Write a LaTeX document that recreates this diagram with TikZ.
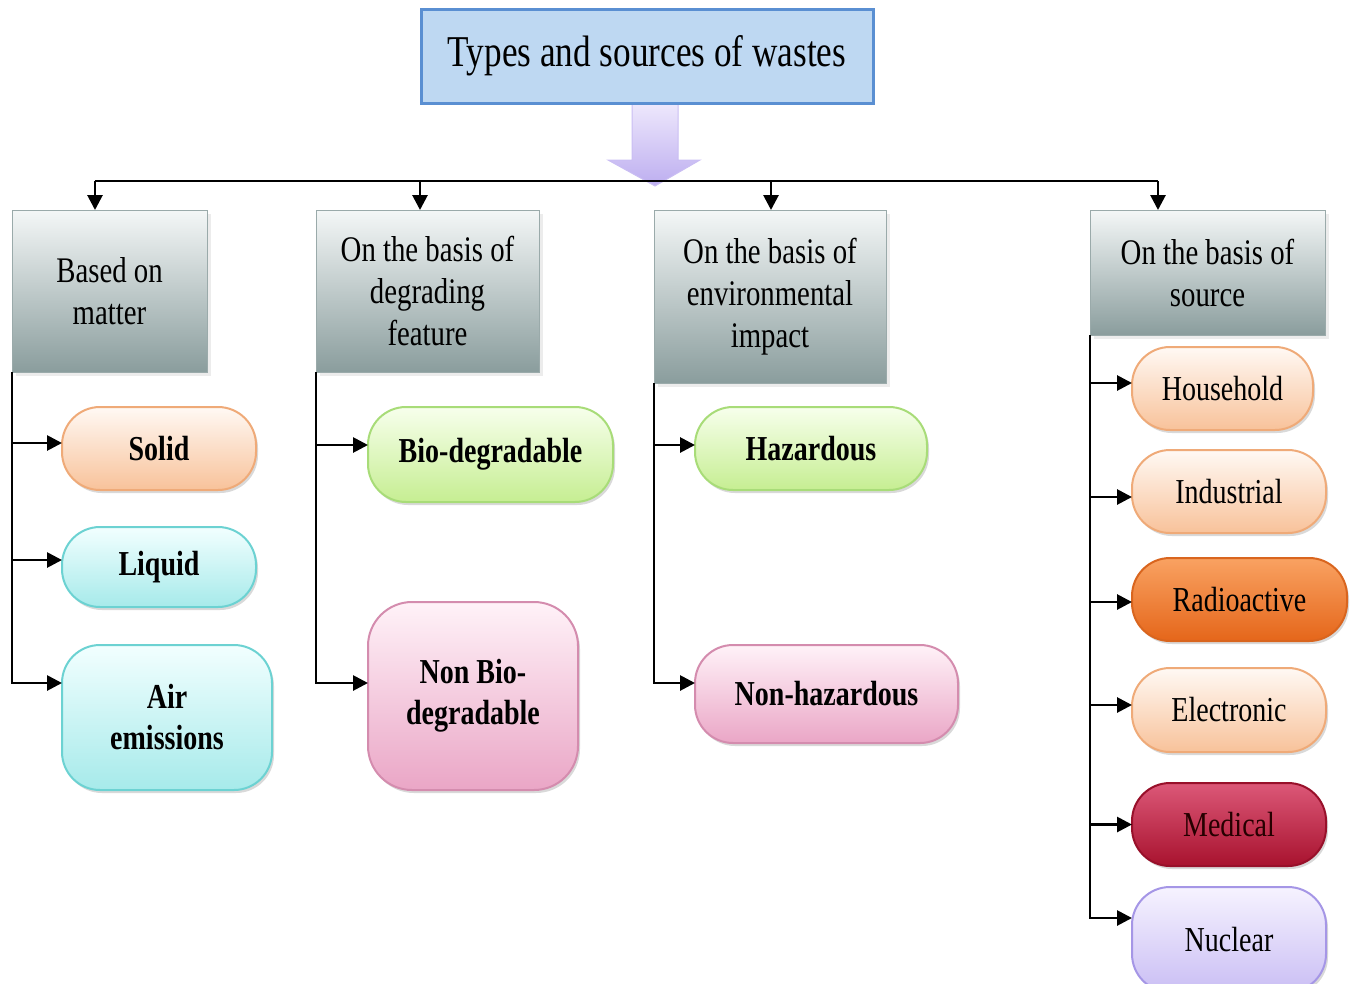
\documentclass[tikz,border=0pt]{standalone}
\usepackage{fontspec}
\setmainfont{Liberation Serif}[FakeStretch=0.8]
\usetikzlibrary{arrows.meta, shadows}

\definecolor{titlefill}{HTML}{BED8F2}
\definecolor{titleedge}{HTML}{5A8FD2}
\definecolor{flowtop}{HTML}{EEE8FC}
\definecolor{flowbot}{HTML}{BDAEF0}
\definecolor{cattop}{HTML}{F4F7F7}
\definecolor{catbot}{HTML}{8A9D9D}
\definecolor{catedge}{HTML}{9AAAAA}
\definecolor{peachtop}{HTML}{FFF9F4}
\definecolor{peachbot}{HTML}{F8C29A}
\definecolor{peachedge}{HTML}{EFAA78}
\definecolor{cyantop}{HTML}{F2FFFF}
\definecolor{cyanbot}{HTML}{A6EAEA}
\definecolor{cyanedge}{HTML}{6CD2D2}
\definecolor{greentop}{HTML}{F7FFEC}
\definecolor{greenbot}{HTML}{C6EE92}
\definecolor{greenedge}{HTML}{A8DC78}
\definecolor{pinktop}{HTML}{FFF2F8}
\definecolor{pinkbot}{HTML}{EAA6C6}
\definecolor{pinkedge}{HTML}{D48CAE}
\definecolor{radiotop}{HTML}{F9A262}
\definecolor{radiobot}{HTML}{E5661A}
\definecolor{radioedge}{HTML}{D9651E}
\definecolor{medictop}{HTML}{DC5878}
\definecolor{medicbot}{HTML}{A8122E}
\definecolor{medicedge}{HTML}{98102A}
\definecolor{lavtop}{HTML}{F6F3FF}
\definecolor{lavbot}{HTML}{CABEF4}
\definecolor{lavedge}{HTML}{A596E6}

\begin{document}
\begin{tikzpicture}[x=1pt, y=-1pt,
  every node/.style={inner sep=0pt, outer sep=0pt, align=center},
  link/.style={line width=2.8pt, -{Triangle[length=15pt, width=15pt]}},
  bus/.style={line width=2.8pt},
  titlebox/.style={rectangle, fill=titlefill, draw=titleedge, line width=3pt,
    font=\fontsize{44}{48}\selectfont},
  catbox/.style={rectangle, top color=cattop, bottom color=catbot, draw=catedge,
    line width=1pt, font=\fontsize{36}{42}\selectfont,
    drop shadow={shadow xshift=4pt, shadow yshift=-4pt, opacity=0.15}},
  leaf/.style={rectangle, rounded corners=38pt, line width=2pt,
    font=\bfseries\fontsize{35}{41}\selectfont,
    drop shadow={shadow xshift=2pt, shadow yshift=-3pt, opacity=0.3}},
  srcleaf/.style={leaf, font=\fontsize{35}{41}\selectfont},
  peach/.style={top color=peachtop, bottom color=peachbot, draw=peachedge},
  cyanish/.style={top color=cyantop, bottom color=cyanbot, draw=cyanedge},
  greenish/.style={top color=greentop, bottom color=greenbot, draw=greenedge},
  pinkish/.style={top color=pinktop, bottom color=pinkbot, draw=pinkedge},
  radio/.style={top color=radiotop, bottom color=radiobot, draw=radioedge},
  medic/.style={top color=medictop, bottom color=medicbot, draw=medicedge},
  lav/.style={top color=lavtop, bottom color=lavbot, draw=lavedge}]

\useasboundingbox (0,0) rectangle (1354,983);

% big flow arrow under the title
\shadedraw[top color=flowtop, bottom color=flowbot, draw=flowbot!80!white, line width=1pt]
  (632,103) -- (678,103) -- (678,160) -- (700,160) -- (655,186)
  -- (608,160) -- (632,160) -- cycle;

\node[titlebox, minimum width=452pt, minimum height=94pt] (title) at (647,56)
  {\raisebox{3pt}{Types and sources of wastes}};

% categories
\node[catbox, minimum width=195pt, minimum height=162pt] (cat1) at (109.5,291)
  {Based on\\matter};
\node[catbox, minimum width=223pt, minimum height=162pt] (cat2) at (427.5,291)
  {On the basis of\\degrading\\feature};
\node[catbox, minimum width=232pt, minimum height=173pt] (cat3) at (770,296.5)
  {On the basis of\\environmental\\impact};
\node[catbox, minimum width=235pt, minimum height=125pt] (cat4) at (1207.5,272.5)
  {On the basis of\\source};

% leaves
\node[leaf, peach, minimum width=194pt, minimum height=83pt] (solid) at (159,448.5) {Solid};
\node[leaf, cyanish, minimum width=194pt, minimum height=80pt] (liquid) at (159,567) {Liquid};
\node[leaf, cyanish, minimum width=210pt, minimum height=145pt] (air) at (167,717.5) {Air\\emissions};

\node[leaf, greenish, minimum width=245pt, minimum height=95pt] (bio) at (490.5,454.5) {Bio-degradable};
\node[leaf, pinkish, minimum width=210pt, minimum height=188pt, rounded corners=44pt] (nonbio) at (473,696)
  {Non Bio-\\degradable};

\node[leaf, greenish, minimum width=232pt, minimum height=83pt] (haz) at (811,448.5) {Hazardous};
\node[leaf, pinkish, minimum width=263pt, minimum height=98pt] (nonhaz) at (826.5,694) {Non-hazardous};

\node[srcleaf, peach, minimum width=181pt, minimum height=83pt] (house) at (1222.5,388.5) {Household};
\node[srcleaf, peach, minimum width=194pt, minimum height=83pt] (indus) at (1229,491.5) {Industrial};
\node[srcleaf, radio, minimum width=215pt, minimum height=83pt] (radioact) at (1239.5,599.5) {Radioactive};
\node[srcleaf, peach, minimum width=194pt, minimum height=84pt] (elec) at (1229,710) {Electronic};
\node[srcleaf, medic, minimum width=194pt, minimum height=83pt, text=black!85!red] (medical) at (1229,824.5) {Medical};
\node[srcleaf, lav, minimum width=194pt, minimum height=105pt] (nuclear) at (1229,939.5) {Nuclear};

% where the arrows meet the leaves
\foreach \leaf/\dy in {solid/5.5, liquid/7, air/34.5, bio/9.5, nonbio/13, haz/3.5,
    nonhaz/11, house/5.5, indus/-5.5, radioact/-2.5, elec/5, medical/0, nuclear/21.5}
  \coordinate (\leaf-in) at ([yshift=\dy pt]\leaf.west);

% bus from the title to the categories
\coordinate (b1) at (95,181);
\coordinate (b2) at (420,181);
\coordinate (b3) at (771,181);
\coordinate (b4) at (1158,181);
\draw[bus] (b1) -- (b4);
\foreach \b/\cat in {b1/cat1, b2/cat2, b3/cat3, b4/cat4}
  \draw[link] (\b) -- (\b |- \cat.north);

% trunks down to the leaves
\foreach \cat/\last/\rest in {cat1/air/{solid,liquid}, cat2/nonbio/{bio},
    cat3/nonhaz/{haz}, cat4/nuclear/{house,indus,radioact,elec,medical}} {
  \draw[link] (\cat.south west) |- (\last-in);
  \foreach \leaf in \rest
    \draw[link] (\cat.south west |- \leaf-in) -- (\leaf-in);
}
\end{tikzpicture}
\end{document}
